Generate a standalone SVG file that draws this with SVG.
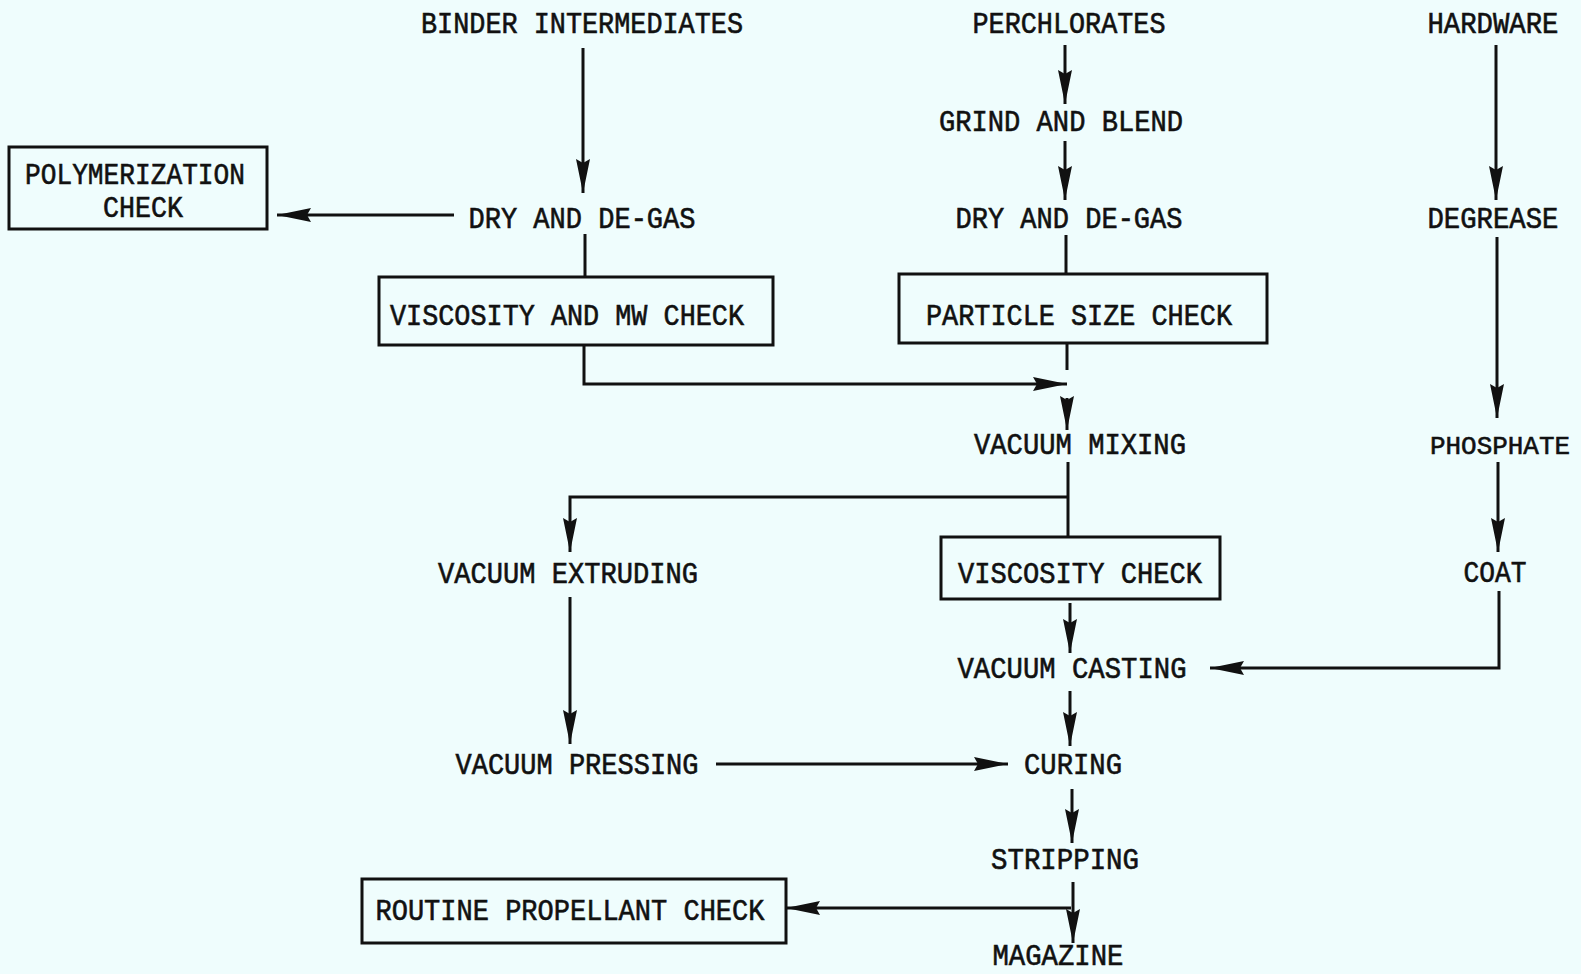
<svg xmlns="http://www.w3.org/2000/svg" width="1581" height="974" viewBox="0 0 1581 974">
<style>
.t{font-family:"Liberation Mono","DejaVu Sans Mono",monospace;font-size:29px;fill:#111;text-anchor:middle;stroke:#111;stroke-width:0.6}
.b{fill:none;stroke:#111;stroke-width:3}
.c{fill:none;stroke:#111;stroke-width:3}
</style>
<defs>
<marker id="a" viewBox="0 0 34 14" refX="34" refY="7" markerWidth="34" markerHeight="14" markerUnits="userSpaceOnUse" orient="auto">
<path d="M0,0 L34,7 L0,14 L4,7 z" fill="#111"/>
</marker>
</defs>
<rect width="1581" height="974" fill="#effdfd"/>
<g id="n-binder"><text class="t" x="582" y="33" textLength="322" lengthAdjust="spacingAndGlyphs">BINDER INTERMEDIATES</text></g>
<g id="n-perch"><text class="t" x="1069" y="33" textLength="193" lengthAdjust="spacingAndGlyphs">PERCHLORATES</text></g>
<g id="n-hardware"><text class="t" x="1493" y="33" textLength="131" lengthAdjust="spacingAndGlyphs">HARDWARE</text></g>
<g id="n-poly"><rect class="b" x="9" y="147" width="258" height="82"/>
<text class="t" x="135" y="184" textLength="220" lengthAdjust="spacingAndGlyphs">POLYMERIZATION</text>
<text class="t" x="143" y="217" textLength="80" lengthAdjust="spacingAndGlyphs">CHECK</text></g>
<g id="n-dry1"><text class="t" x="582" y="228" textLength="227" lengthAdjust="spacingAndGlyphs">DRY AND DE-GAS</text></g>
<g id="n-visc-mw"><rect class="b" x="379" y="277" width="394" height="68"/>
<text class="t" x="567" y="325" textLength="354" lengthAdjust="spacingAndGlyphs">VISCOSITY AND MW CHECK</text></g>
<g id="n-grind"><text class="t" x="1061" y="131" textLength="244" lengthAdjust="spacingAndGlyphs">GRIND AND BLEND</text></g>
<g id="n-dry2"><text class="t" x="1069" y="228" textLength="227" lengthAdjust="spacingAndGlyphs">DRY AND DE-GAS</text></g>
<g id="n-particle"><rect class="b" x="899" y="274" width="368" height="69"/>
<text class="t" x="1079" y="325" textLength="306" lengthAdjust="spacingAndGlyphs">PARTICLE SIZE CHECK</text></g>
<g id="n-degrease"><text class="t" x="1493" y="228" textLength="131" lengthAdjust="spacingAndGlyphs">DEGREASE</text></g>
<g id="n-mixing"><text class="t" x="1080" y="454" textLength="212" lengthAdjust="spacingAndGlyphs">VACUUM MIXING</text></g>
<g id="n-phosphate"><text class="t" x="1500" y="454" style="font-size:26px" textLength="140" lengthAdjust="spacingAndGlyphs">PHOSPHATE</text></g>
<g id="n-extruding"><text class="t" x="568" y="583" textLength="260" lengthAdjust="spacingAndGlyphs">VACUUM EXTRUDING</text></g>
<g id="n-visc"><rect class="b" x="941" y="537" width="279" height="62"/>
<text class="t" x="1080" y="583" textLength="244" lengthAdjust="spacingAndGlyphs">VISCOSITY CHECK</text></g>
<g id="n-coat"><text class="t" x="1495" y="582" textLength="63" lengthAdjust="spacingAndGlyphs">COAT</text></g>
<g id="n-casting"><text class="t" x="1072" y="678" textLength="229" lengthAdjust="spacingAndGlyphs">VACUUM CASTING</text></g>
<g id="n-pressing"><text class="t" x="577" y="774" textLength="243" lengthAdjust="spacingAndGlyphs">VACUUM PRESSING</text></g>
<g id="n-curing"><text class="t" x="1073" y="774" textLength="98" lengthAdjust="spacingAndGlyphs">CURING</text></g>
<g id="n-stripping"><text class="t" x="1065" y="869" textLength="148" lengthAdjust="spacingAndGlyphs">STRIPPING</text></g>
<g id="n-routine"><rect class="b" x="362" y="879" width="424" height="64"/>
<text class="t" x="570" y="920" textLength="389" lengthAdjust="spacingAndGlyphs">ROUTINE PROPELLANT CHECK</text></g>
<g id="n-magazine"><text class="t" x="1058" y="965" textLength="131" lengthAdjust="spacingAndGlyphs">MAGAZINE</text></g>
<g id="connectors">
<line class="c" x1="583" y1="48" x2="583" y2="193" marker-end="url(#a)"/>
<line class="c" x1="454" y1="215" x2="277" y2="215" marker-end="url(#a)"/>
<line class="c" x1="585" y1="234" x2="585" y2="277"/>
<polyline class="c" points="584,345 584,384 1067,384" marker-end="url(#a)"/>
<line class="c" x1="1065" y1="45" x2="1065" y2="104" marker-end="url(#a)"/>
<line class="c" x1="1065" y1="141" x2="1065" y2="200" marker-end="url(#a)"/>
<line class="c" x1="1066" y1="235" x2="1066" y2="274"/>
<line class="c" x1="1067" y1="343" x2="1067" y2="370"/>
<line class="c" x1="1067" y1="398" x2="1067" y2="430" marker-end="url(#a)"/>
<line class="c" x1="1068" y1="462" x2="1068" y2="537"/>
<polyline class="c" points="1068,497 570,497 570,552" marker-end="url(#a)"/>
<line class="c" x1="570" y1="597" x2="570" y2="744" marker-end="url(#a)"/>
<line class="c" x1="716" y1="764" x2="1008" y2="764" marker-end="url(#a)"/>
<line class="c" x1="1070" y1="603" x2="1070" y2="653" marker-end="url(#a)"/>
<line class="c" x1="1070" y1="691" x2="1070" y2="746" marker-end="url(#a)"/>
<line class="c" x1="1072" y1="789" x2="1072" y2="843" marker-end="url(#a)"/>
<line class="c" x1="1073" y1="882" x2="1073" y2="943" marker-end="url(#a)"/>
<line class="c" x1="1071" y1="908" x2="786" y2="908" marker-end="url(#a)"/>
<line class="c" x1="1496" y1="45" x2="1496" y2="200" marker-end="url(#a)"/>
<line class="c" x1="1497" y1="237" x2="1497" y2="418" marker-end="url(#a)"/>
<line class="c" x1="1498" y1="462" x2="1498" y2="552" marker-end="url(#a)"/>
<polyline class="c" points="1499,591 1499,668 1210,668" marker-end="url(#a)"/>
</g>
</svg>
